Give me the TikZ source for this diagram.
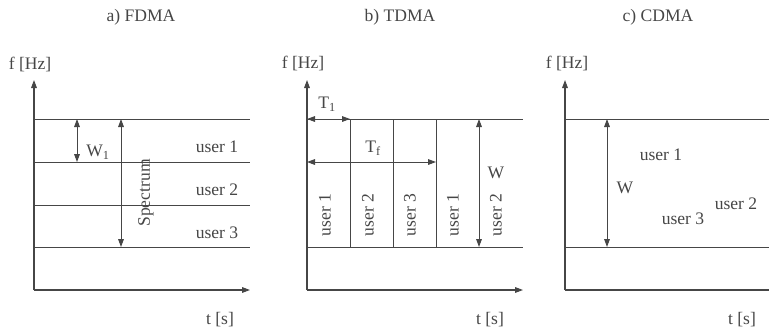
\documentclass[tikz,border=0pt]{standalone}
\usepackage{fontspec}
\setmainfont{Liberation Serif}
\usetikzlibrary{arrows.meta}
\definecolor{inkgray}{RGB}{70,70,70}
\tikzset{
  axis/.style={draw=inkgray, line width=0.9pt, -{Triangle[length=2.4mm,width=1.7mm]}},
  band/.style={draw=inkgray, line width=0.8pt},
  dimarrow/.style={draw=inkgray, line width=0.8pt, {Triangle[length=2.4mm,width=1.7mm]}-{Triangle[length=2.4mm,width=1.7mm]}},
  lbl/.style={text=inkgray, font=\fontsize{15}{18}\selectfont, inner sep=0pt}
}
\begin{document}
\begin{tikzpicture}[x=0.03cm, y=-0.03cm]
    \useasboundingbox (0,0) rectangle (769,329);
    \clip (0,0) rectangle (769,329);
    % a) FDMA
    \coordinate (Ao) at (34,290);
    \coordinate (Ay) at (34,80);
    \coordinate (Ax) at (250,290);
    \coordinate (A1) at (34,119);  \coordinate (A1e) at (250,119);
    \coordinate (A2) at (34,162);  \coordinate (A2e) at (250,162);
    \coordinate (A3) at (34,205);  \coordinate (A3e) at (250,205);
    \coordinate (A4) at (34,247);  \coordinate (A4e) at (250,247);
    \coordinate (Wat) at (77,119); \coordinate (Wab) at (77,162);
    \coordinate (Sat) at (121,119); \coordinate (Sab) at (121,247);
    \draw[axis] (Ao)--(Ay);
    \draw[axis] (Ao)--(Ax);
    \draw[band] (A1)--(A1e) (A2)--(A2e) (A3)--(A3e) (A4)--(A4e);
    \draw[dimarrow] (Wat)--(Wab);
    \draw[dimarrow] (Sat)--(Sab);
    \node[lbl] (Atitle) at (141,17) {a) FDMA};
    \node[lbl] (Af) at (30,64) {f [Hz]};
    \node[lbl] (At) at (220,320) {t [s]};
    \node[lbl] (AW) at (98,152) {W\textsubscript{1}};
    \node[lbl, rotate=90] (Aspec) at (146,193) {Spectrum};
    \node[lbl] (Au1) at (217,147) {user 1};
    \node[lbl] (Au2) at (217,190) {user 2};
    \node[lbl] (Au3) at (217,233) {user 3};
    % b) TDMA
    \coordinate (Bo) at (307,290);
    \coordinate (By) at (307,80);
    \coordinate (Bx) at (523,290);
    \coordinate (Bt) at (307,119); \coordinate (Bte) at (523,119);
    \coordinate (Bb) at (307,247); \coordinate (Bbe) at (523,247);
    \coordinate (Bs1) at (350,119); \coordinate (Bs1b) at (350,247);
    \coordinate (Bs2) at (393,119); \coordinate (Bs2b) at (393,247);
    \coordinate (Bs3) at (436,119); \coordinate (Bs3b) at (436,247);
    \coordinate (Tfa) at (307,162); \coordinate (Tfb) at (436,162);
    \coordinate (Wbt) at (479,119); \coordinate (Wbb) at (479,247);
    \draw[axis] (Bo)--(By);
    \draw[axis] (Bo)--(Bx);
    \draw[band] (Bt)--(Bte) (Bb)--(Bbe);
    \draw[band] (Bs1)--(Bs1b) (Bs2)--(Bs2b) (Bs3)--(Bs3b);
    \draw[dimarrow] (Bt)--(Bs1);
    \draw[dimarrow] (Tfa)--(Tfb);
    \draw[dimarrow] (Wbt)--(Wbb);
    \node[lbl] (Btitle) at (400,17) {b) TDMA};
    \node[lbl] (Bf) at (303,63) {f [Hz]};
    \node[lbl] (Btt) at (490,320) {t [s]};
    \node[lbl] (BT1) at (327,104) {T\textsubscript{1}};
    \node[lbl] (BTf) at (373,148) {T\textsubscript{f}};
    \node[lbl] (BW) at (496,173) {W};
    \node[lbl, rotate=90] (Bu1) at (325,215) {user 1};
    \node[lbl, rotate=90] (Bu2) at (368,215) {user 2};
    \node[lbl, rotate=90] (Bu3) at (410,215) {user 3};
    \node[lbl, rotate=90] (Bu4) at (453,215) {user 1};
    \node[lbl, rotate=90] (Bu5) at (496,215) {user 2};
    % c) CDMA
    \coordinate (Co) at (565,290);
    \coordinate (Cy) at (565,80);
    \coordinate (Cx) at (781,290);
    \coordinate (Ct) at (565,119); \coordinate (Cte) at (781,119);
    \coordinate (Cb) at (565,247); \coordinate (Cbe) at (781,247);
    \coordinate (Wct) at (607,119); \coordinate (Wcb) at (607,247);
    \draw[axis] (Co)--(Cy);
    \draw[axis] (Co)--(Cx);
    \draw[band] (Ct)--(Cte) (Cb)--(Cbe);
    \draw[dimarrow] (Wct)--(Wcb);
    \node[lbl] (Ctitle) at (658,17) {c) CDMA};
    \node[lbl] (Cf) at (567,63) {f [Hz]};
    \node[lbl] (Ctt) at (742,320) {t [s]};
    \node[lbl] (CW) at (625,188) {W};
    \node[lbl] (Cu1) at (661,155) {user 1};
    \node[lbl] (Cu3) at (683,219) {user 3};
    \node[lbl] (Cu2) at (736,204) {user 2};
\end{tikzpicture}
\end{document}
